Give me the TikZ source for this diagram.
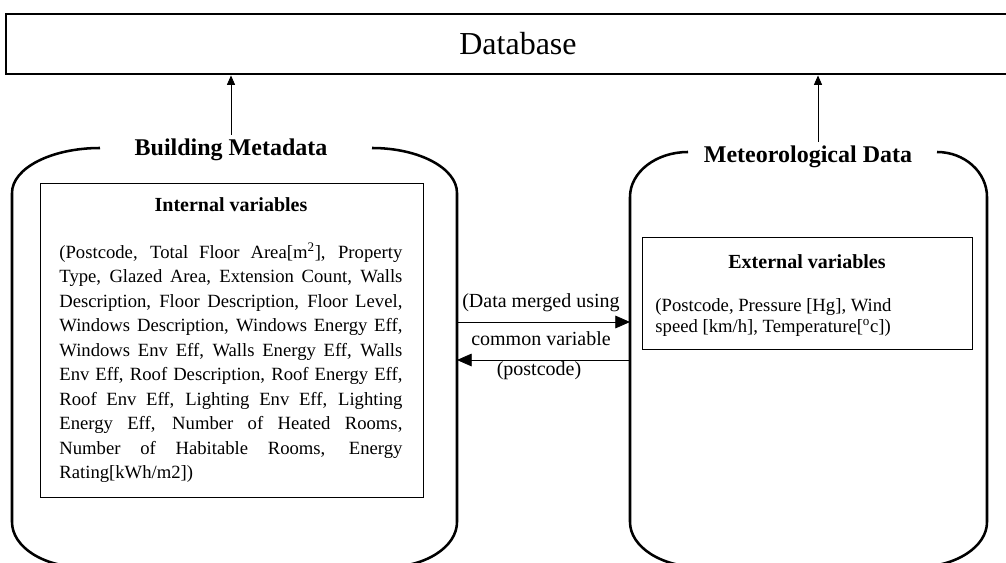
\documentclass[tikz,border=0pt]{standalone}
\usepackage{fontspec}
\setmainfont{Liberation Serif}
\usetikzlibrary{arrows.meta, positioning}

\begin{document}
\begin{tikzpicture}[
        x = 0.75pt,
        y = -0.75pt,
        > = {Triangle[length=7pt, width=6pt]},
        semithick,
        database/.style = {draw, line width=2.2pt, minimum width=768pt, minimum height=45pt,
            font=\fontsize{24}{28}\selectfont},
        container/.style = {line width=1.9pt},
        heading/.style = {font=\fontsize{18}{22}\selectfont\bfseries, inner ysep=3pt},
        varbox/.style = {draw, line width=0.8pt, anchor=north west, inner sep=0pt},
        boxtitle/.style = {font=\fontsize{15}{18}\selectfont\bfseries},
        vartext/.style = {anchor=north west, inner sep=0pt},
        merge/.style = {->, > = {Triangle[length=11pt, width=9.5pt]}},
        mergelabel/.style = {font=\fontsize{15}{18}\selectfont}
    ]
    \useasboundingbox (0,0) rectangle (1006,563);

    \node[database] (db) at (518,44) {Database};

    % building side
    \draw[container] (100,148) arc[start angle=-90, end angle=-180, x radius=88, y radius=45]
        -- (12,522) arc[start angle=180, end angle=90, x radius=70, y radius=45]
        -- (387,567) arc[start angle=90, end angle=0, x radius=70, y radius=45]
        -- (457,193) arc[start angle=0, end angle=-90, x radius=85, y radius=45];
    \node[heading] (bmeta) at (231,150) {Building Metadata};

    \node[varbox, minimum width=287.25pt, minimum height=235.5pt] (intbox) at (40,183) {};
    \node[boxtitle] (intlabel) at (231,205) {Internal variables};
    \node[vartext, text width=257.25pt, align=justify,
        font=\fontsize{14}{18.4}\selectfont] (inttext) at (59,242)
        {\tolerance=10000 \hyphenpenalty=10000
        (Postcode, Total Floor Area[m\textsuperscript{2}], Property\linebreak
        Type, Glazed Area, Extension Count, Walls\linebreak
        Description, Floor Description, Floor Level,\linebreak
        Windows Description, Windows Energy Eff,\linebreak
        Windows Env Eff, Walls Energy Eff, Walls\linebreak
        Env Eff, Roof Description, Roof Energy Eff,\linebreak
        Roof Env Eff, Lighting Env Eff, Lighting\linebreak
        Energy Eff, Number of Heated Rooms,\linebreak
        Number of Habitable Rooms, Energy\linebreak
        Rating[kWh/m2])};

    % weather side
    \draw[container] (688,152) arc[start angle=-90, end angle=-180, x radius=58, y radius=45]
        -- (630,522) arc[start angle=180, end angle=90, x radius=70, y radius=45]
        -- (917,567) arc[start angle=90, end angle=0, x radius=70, y radius=45]
        -- (987,197) arc[start angle=0, end angle=-90, x radius=50, y radius=45];
    \node[heading] (meteo) at (808,157) {Meteorological Data};

    \node[varbox, minimum width=247.5pt, minimum height=84pt] (extbox) at (642,237) {};
    \node[boxtitle] (extlabel) at (807,262) {External variables};
    \node[vartext, align=left, font=\fontsize{14}{16}\selectfont] (exttext) at (655,298)
        {(Postcode, Pressure [Hg], Wind\\
        speed [km/h], Temperature[\textsuperscript{o}c])};

    % up to the database
    \draw[->] (bmeta.north) -- (bmeta.north |- db.south);
    \draw[->] ([xshift=7.5pt]meteo.north) -- ([xshift=7.5pt]meteo.north |- db.south);

    % merge
    \coordinate (mergeL1) at (457,322);
    \coordinate (mergeR1) at (630,322);
    \coordinate (mergeL2) at (457,360);
    \coordinate (mergeR2) at (630,360);
    \draw[merge] (mergeL1) -- (mergeR1);
    \draw[merge] (mergeR2) -- (mergeL2);
    \node[mergelabel] (mergeA) at (541,303) {(Data merged using};
    \node[mergelabel] (mergeB) at (541,339) {common variable};
    \node[mergelabel] (mergeC) at (539,371) {(postcode)};
\end{tikzpicture}
\end{document}
